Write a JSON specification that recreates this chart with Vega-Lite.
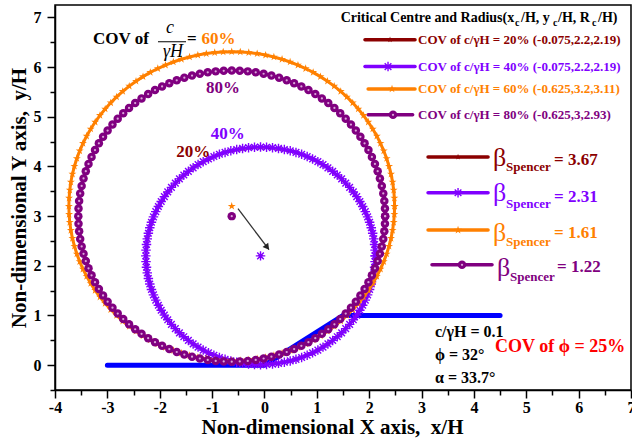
{
"$schema":"https://vega.github.io/schema/vega-lite/v6.json",
"width":576,"height":385,"autosize":"none",
"padding":{"left":55,"top":5,"right":1,"bottom":52},
"config":{"view":{"stroke":"#000","strokeWidth":1.5},
"axis":{"grid":false,"domainColor":"#000","domainWidth":1.5,"tickColor":"#000","tickWidth":1.5,"labelFont":"Liberation Serif","labelFontSize":16,"labelFontWeight":"bold","labelColor":"#000","titleFont":"Liberation Serif","titleFontSize":21,"titleFontWeight":"bold","titleColor":"#000"}},
"datasets":{"pts":[
{"s":"20%","i":0,"x":2.115,"y":2.2},{"s":"20%","i":1,"x":2.088,"y":2.543},{"s":"20%","i":2,"x":2.008,"y":2.877},{"s":"20%","i":3,"x":1.876,"y":3.194},{"s":"20%","i":4,"x":1.697,"y":3.487},{"s":"20%","i":5,"x":1.474,"y":3.749},{"s":"20%","i":6,"x":1.212,"y":3.972},{"s":"20%","i":7,"x":0.919,"y":4.151},{"s":"20%","i":8,"x":0.602,"y":4.283},{"s":"20%","i":9,"x":0.268,"y":4.363},
{"s":"20%","i":10,"x":-0.075,"y":4.39},{"s":"20%","i":11,"x":-0.418,"y":4.363},{"s":"20%","i":12,"x":-0.752,"y":4.283},{"s":"20%","i":13,"x":-1.069,"y":4.151},{"s":"20%","i":14,"x":-1.362,"y":3.972},{"s":"20%","i":15,"x":-1.624,"y":3.749},{"s":"20%","i":16,"x":-1.847,"y":3.487},{"s":"20%","i":17,"x":-2.026,"y":3.194},{"s":"20%","i":18,"x":-2.158,"y":2.877},{"s":"20%","i":19,"x":-2.238,"y":2.543},
{"s":"20%","i":20,"x":-2.265,"y":2.2},{"s":"20%","i":21,"x":-2.238,"y":1.857},{"s":"20%","i":22,"x":-2.158,"y":1.523},{"s":"20%","i":23,"x":-2.026,"y":1.206},{"s":"20%","i":24,"x":-1.847,"y":0.913},{"s":"20%","i":25,"x":-1.624,"y":0.651},{"s":"20%","i":26,"x":-1.362,"y":0.428},{"s":"20%","i":27,"x":-1.069,"y":0.249},{"s":"20%","i":28,"x":-0.752,"y":0.117},{"s":"20%","i":29,"x":-0.418,"y":0.037},
{"s":"20%","i":30,"x":-0.075,"y":0.01},{"s":"20%","i":31,"x":0.268,"y":0.037},{"s":"20%","i":32,"x":0.602,"y":0.117},{"s":"20%","i":33,"x":0.919,"y":0.249},{"s":"20%","i":34,"x":1.212,"y":0.428},{"s":"20%","i":35,"x":1.474,"y":0.651},{"s":"20%","i":36,"x":1.697,"y":0.913},{"s":"20%","i":37,"x":1.876,"y":1.206},{"s":"20%","i":38,"x":2.008,"y":1.523},{"s":"20%","i":39,"x":2.088,"y":1.857},{"s":"20%","i":40,"x":2.115,"y":2.2},
{"s":"40%","i":0,"x":2.115,"y":2.2},{"s":"40%","i":1,"x":2.112,"y":2.315},{"s":"40%","i":2,"x":2.103,"y":2.429},{"s":"40%","i":3,"x":2.088,"y":2.543},{"s":"40%","i":4,"x":2.067,"y":2.655},{"s":"40%","i":5,"x":2.04,"y":2.767},{"s":"40%","i":6,"x":2.008,"y":2.877},{"s":"40%","i":7,"x":1.97,"y":2.985},{"s":"40%","i":8,"x":1.926,"y":3.091},{"s":"40%","i":9,"x":1.876,"y":3.194},
{"s":"40%","i":10,"x":1.822,"y":3.295},{"s":"40%","i":11,"x":1.762,"y":3.393},{"s":"40%","i":12,"x":1.697,"y":3.487},{"s":"40%","i":13,"x":1.627,"y":3.578},{"s":"40%","i":14,"x":1.552,"y":3.665},{"s":"40%","i":15,"x":1.474,"y":3.749},{"s":"40%","i":16,"x":1.39,"y":3.827},{"s":"40%","i":17,"x":1.303,"y":3.902},{"s":"40%","i":18,"x":1.212,"y":3.972},{"s":"40%","i":19,"x":1.118,"y":4.037},
{"s":"40%","i":20,"x":1.02,"y":4.097},{"s":"40%","i":21,"x":0.919,"y":4.151},{"s":"40%","i":22,"x":0.816,"y":4.201},{"s":"40%","i":23,"x":0.71,"y":4.245},{"s":"40%","i":24,"x":0.602,"y":4.283},{"s":"40%","i":25,"x":0.492,"y":4.315},{"s":"40%","i":26,"x":0.38,"y":4.342},{"s":"40%","i":27,"x":0.268,"y":4.363},{"s":"40%","i":28,"x":0.154,"y":4.378},{"s":"40%","i":29,"x":0.04,"y":4.387},
{"s":"40%","i":30,"x":-0.075,"y":4.39},{"s":"40%","i":31,"x":-0.19,"y":4.387},{"s":"40%","i":32,"x":-0.304,"y":4.378},{"s":"40%","i":33,"x":-0.418,"y":4.363},{"s":"40%","i":34,"x":-0.53,"y":4.342},{"s":"40%","i":35,"x":-0.642,"y":4.315},{"s":"40%","i":36,"x":-0.752,"y":4.283},{"s":"40%","i":37,"x":-0.86,"y":4.245},{"s":"40%","i":38,"x":-0.966,"y":4.201},{"s":"40%","i":39,"x":-1.069,"y":4.151},
{"s":"40%","i":40,"x":-1.17,"y":4.097},{"s":"40%","i":41,"x":-1.268,"y":4.037},{"s":"40%","i":42,"x":-1.362,"y":3.972},{"s":"40%","i":43,"x":-1.453,"y":3.902},{"s":"40%","i":44,"x":-1.54,"y":3.827},{"s":"40%","i":45,"x":-1.624,"y":3.749},{"s":"40%","i":46,"x":-1.702,"y":3.665},{"s":"40%","i":47,"x":-1.777,"y":3.578},{"s":"40%","i":48,"x":-1.847,"y":3.487},{"s":"40%","i":49,"x":-1.912,"y":3.393},
{"s":"40%","i":50,"x":-1.972,"y":3.295},{"s":"40%","i":51,"x":-2.026,"y":3.194},{"s":"40%","i":52,"x":-2.076,"y":3.091},{"s":"40%","i":53,"x":-2.12,"y":2.985},{"s":"40%","i":54,"x":-2.158,"y":2.877},{"s":"40%","i":55,"x":-2.19,"y":2.767},{"s":"40%","i":56,"x":-2.217,"y":2.655},{"s":"40%","i":57,"x":-2.238,"y":2.543},{"s":"40%","i":58,"x":-2.253,"y":2.429},{"s":"40%","i":59,"x":-2.262,"y":2.315},
{"s":"40%","i":60,"x":-2.265,"y":2.2},{"s":"40%","i":61,"x":-2.262,"y":2.085},{"s":"40%","i":62,"x":-2.253,"y":1.971},{"s":"40%","i":63,"x":-2.238,"y":1.857},{"s":"40%","i":64,"x":-2.217,"y":1.745},{"s":"40%","i":65,"x":-2.19,"y":1.633},{"s":"40%","i":66,"x":-2.158,"y":1.523},{"s":"40%","i":67,"x":-2.12,"y":1.415},{"s":"40%","i":68,"x":-2.076,"y":1.309},{"s":"40%","i":69,"x":-2.026,"y":1.206},
{"s":"40%","i":70,"x":-1.972,"y":1.105},{"s":"40%","i":71,"x":-1.912,"y":1.007},{"s":"40%","i":72,"x":-1.847,"y":0.913},{"s":"40%","i":73,"x":-1.777,"y":0.822},{"s":"40%","i":74,"x":-1.702,"y":0.735},{"s":"40%","i":75,"x":-1.624,"y":0.651},{"s":"40%","i":76,"x":-1.54,"y":0.573},{"s":"40%","i":77,"x":-1.453,"y":0.498},{"s":"40%","i":78,"x":-1.362,"y":0.428},{"s":"40%","i":79,"x":-1.268,"y":0.363},
{"s":"40%","i":80,"x":-1.17,"y":0.303},{"s":"40%","i":81,"x":-1.069,"y":0.249},{"s":"40%","i":82,"x":-0.966,"y":0.199},{"s":"40%","i":83,"x":-0.86,"y":0.155},{"s":"40%","i":84,"x":-0.752,"y":0.117},{"s":"40%","i":85,"x":-0.642,"y":0.085},{"s":"40%","i":86,"x":-0.53,"y":0.058},{"s":"40%","i":87,"x":-0.418,"y":0.037},{"s":"40%","i":88,"x":-0.304,"y":0.022},{"s":"40%","i":89,"x":-0.19,"y":0.013},
{"s":"40%","i":90,"x":-0.075,"y":0.01},{"s":"40%","i":91,"x":0.04,"y":0.013},{"s":"40%","i":92,"x":0.154,"y":0.022},{"s":"40%","i":93,"x":0.268,"y":0.037},{"s":"40%","i":94,"x":0.38,"y":0.058},{"s":"40%","i":95,"x":0.492,"y":0.085},{"s":"40%","i":96,"x":0.602,"y":0.117},{"s":"40%","i":97,"x":0.71,"y":0.155},{"s":"40%","i":98,"x":0.816,"y":0.199},{"s":"40%","i":99,"x":0.919,"y":0.249},
{"s":"40%","i":100,"x":1.02,"y":0.303},{"s":"40%","i":101,"x":1.118,"y":0.363},{"s":"40%","i":102,"x":1.212,"y":0.428},{"s":"40%","i":103,"x":1.303,"y":0.498},{"s":"40%","i":104,"x":1.39,"y":0.573},{"s":"40%","i":105,"x":1.474,"y":0.651},{"s":"40%","i":106,"x":1.552,"y":0.735},{"s":"40%","i":107,"x":1.627,"y":0.822},{"s":"40%","i":108,"x":1.697,"y":0.913},{"s":"40%","i":109,"x":1.762,"y":1.007},
{"s":"40%","i":110,"x":1.822,"y":1.105},{"s":"40%","i":111,"x":1.876,"y":1.206},{"s":"40%","i":112,"x":1.926,"y":1.309},{"s":"40%","i":113,"x":1.97,"y":1.415},{"s":"40%","i":114,"x":2.008,"y":1.523},{"s":"40%","i":115,"x":2.04,"y":1.633},{"s":"40%","i":116,"x":2.067,"y":1.745},{"s":"40%","i":117,"x":2.088,"y":1.857},{"s":"40%","i":118,"x":2.103,"y":1.971},{"s":"40%","i":119,"x":2.112,"y":2.085},{"s":"40%","i":120,"x":2.115,"y":2.2},
{"s":"60%","i":0,"x":2.485,"y":3.2},{"s":"60%","i":1,"x":2.481,"y":3.363},{"s":"60%","i":2,"x":2.468,"y":3.525},{"s":"60%","i":3,"x":2.447,"y":3.686},{"s":"60%","i":4,"x":2.417,"y":3.847},{"s":"60%","i":5,"x":2.379,"y":4.005},{"s":"60%","i":6,"x":2.333,"y":4.161},{"s":"60%","i":7,"x":2.278,"y":4.315},{"s":"60%","i":8,"x":2.216,"y":4.465},{"s":"60%","i":9,"x":2.146,"y":4.612},
{"s":"60%","i":10,"x":2.068,"y":4.755},{"s":"60%","i":11,"x":1.983,"y":4.894},{"s":"60%","i":12,"x":1.891,"y":5.028},{"s":"60%","i":13,"x":1.792,"y":5.157},{"s":"60%","i":14,"x":1.686,"y":5.281},{"s":"60%","i":15,"x":1.574,"y":5.399},{"s":"60%","i":16,"x":1.456,"y":5.511},{"s":"60%","i":17,"x":1.332,"y":5.617},{"s":"60%","i":18,"x":1.203,"y":5.716},{"s":"60%","i":19,"x":1.069,"y":5.808},
{"s":"60%","i":20,"x":0.93,"y":5.893},{"s":"60%","i":21,"x":0.787,"y":5.971},{"s":"60%","i":22,"x":0.64,"y":6.041},{"s":"60%","i":23,"x":0.49,"y":6.103},{"s":"60%","i":24,"x":0.336,"y":6.158},{"s":"60%","i":25,"x":0.18,"y":6.204},{"s":"60%","i":26,"x":0.022,"y":6.242},{"s":"60%","i":27,"x":-0.139,"y":6.272},{"s":"60%","i":28,"x":-0.3,"y":6.293},{"s":"60%","i":29,"x":-0.462,"y":6.306},
{"s":"60%","i":30,"x":-0.625,"y":6.31},{"s":"60%","i":31,"x":-0.788,"y":6.306},{"s":"60%","i":32,"x":-0.95,"y":6.293},{"s":"60%","i":33,"x":-1.111,"y":6.272},{"s":"60%","i":34,"x":-1.272,"y":6.242},{"s":"60%","i":35,"x":-1.43,"y":6.204},{"s":"60%","i":36,"x":-1.586,"y":6.158},{"s":"60%","i":37,"x":-1.74,"y":6.103},{"s":"60%","i":38,"x":-1.89,"y":6.041},{"s":"60%","i":39,"x":-2.037,"y":5.971},
{"s":"60%","i":40,"x":-2.18,"y":5.893},{"s":"60%","i":41,"x":-2.319,"y":5.808},{"s":"60%","i":42,"x":-2.453,"y":5.716},{"s":"60%","i":43,"x":-2.582,"y":5.617},{"s":"60%","i":44,"x":-2.706,"y":5.511},{"s":"60%","i":45,"x":-2.824,"y":5.399},{"s":"60%","i":46,"x":-2.936,"y":5.281},{"s":"60%","i":47,"x":-3.042,"y":5.157},{"s":"60%","i":48,"x":-3.141,"y":5.028},{"s":"60%","i":49,"x":-3.233,"y":4.894},
{"s":"60%","i":50,"x":-3.318,"y":4.755},{"s":"60%","i":51,"x":-3.396,"y":4.612},{"s":"60%","i":52,"x":-3.466,"y":4.465},{"s":"60%","i":53,"x":-3.528,"y":4.315},{"s":"60%","i":54,"x":-3.583,"y":4.161},{"s":"60%","i":55,"x":-3.629,"y":4.005},{"s":"60%","i":56,"x":-3.667,"y":3.847},{"s":"60%","i":57,"x":-3.697,"y":3.686},{"s":"60%","i":58,"x":-3.718,"y":3.525},{"s":"60%","i":59,"x":-3.731,"y":3.363},
{"s":"60%","i":60,"x":-3.735,"y":3.2},{"s":"60%","i":61,"x":-3.731,"y":3.037},{"s":"60%","i":62,"x":-3.718,"y":2.875},{"s":"60%","i":63,"x":-3.697,"y":2.714},{"s":"60%","i":64,"x":-3.667,"y":2.553},{"s":"60%","i":65,"x":-3.629,"y":2.395},{"s":"60%","i":66,"x":-3.583,"y":2.239},{"s":"60%","i":67,"x":-3.528,"y":2.085},{"s":"60%","i":68,"x":-3.466,"y":1.935},{"s":"60%","i":69,"x":-3.396,"y":1.788},
{"s":"60%","i":70,"x":-3.318,"y":1.645},{"s":"60%","i":71,"x":-3.233,"y":1.506},{"s":"60%","i":72,"x":-3.141,"y":1.372},{"s":"60%","i":73,"x":-3.042,"y":1.243},{"s":"60%","i":74,"x":-2.936,"y":1.119},{"s":"60%","i":75,"x":-2.824,"y":1.001},{"s":"60%","i":76,"x":-2.706,"y":0.889},{"s":"60%","i":77,"x":-2.582,"y":0.783},{"s":"60%","i":78,"x":-2.453,"y":0.684},{"s":"60%","i":79,"x":-2.319,"y":0.592},
{"s":"60%","i":80,"x":-2.18,"y":0.507},{"s":"60%","i":81,"x":-2.037,"y":0.429},{"s":"60%","i":82,"x":-1.89,"y":0.359},{"s":"60%","i":83,"x":-1.74,"y":0.297},{"s":"60%","i":84,"x":-1.586,"y":0.242},{"s":"60%","i":85,"x":-1.43,"y":0.196},{"s":"60%","i":86,"x":-1.272,"y":0.158},{"s":"60%","i":87,"x":-1.111,"y":0.128},{"s":"60%","i":88,"x":-0.95,"y":0.107},{"s":"60%","i":89,"x":-0.788,"y":0.094},
{"s":"60%","i":90,"x":-0.625,"y":0.09},{"s":"60%","i":91,"x":-0.462,"y":0.094},{"s":"60%","i":92,"x":-0.3,"y":0.107},{"s":"60%","i":93,"x":-0.139,"y":0.128},{"s":"60%","i":94,"x":0.022,"y":0.158},{"s":"60%","i":95,"x":0.18,"y":0.196},{"s":"60%","i":96,"x":0.336,"y":0.242},{"s":"60%","i":97,"x":0.49,"y":0.297},{"s":"60%","i":98,"x":0.64,"y":0.359},{"s":"60%","i":99,"x":0.787,"y":0.429},
{"s":"60%","i":100,"x":0.93,"y":0.507},{"s":"60%","i":101,"x":1.069,"y":0.592},{"s":"60%","i":102,"x":1.203,"y":0.684},{"s":"60%","i":103,"x":1.332,"y":0.783},{"s":"60%","i":104,"x":1.456,"y":0.889},{"s":"60%","i":105,"x":1.574,"y":1.001},{"s":"60%","i":106,"x":1.686,"y":1.119},{"s":"60%","i":107,"x":1.792,"y":1.243},{"s":"60%","i":108,"x":1.891,"y":1.372},{"s":"60%","i":109,"x":1.983,"y":1.506},
{"s":"60%","i":110,"x":2.068,"y":1.645},{"s":"60%","i":111,"x":2.146,"y":1.788},{"s":"60%","i":112,"x":2.216,"y":1.935},{"s":"60%","i":113,"x":2.278,"y":2.085},{"s":"60%","i":114,"x":2.333,"y":2.239},{"s":"60%","i":115,"x":2.379,"y":2.395},{"s":"60%","i":116,"x":2.417,"y":2.553},{"s":"60%","i":117,"x":2.447,"y":2.714},{"s":"60%","i":118,"x":2.468,"y":2.875},{"s":"60%","i":119,"x":2.481,"y":3.037},{"s":"60%","i":120,"x":2.485,"y":3.2},
{"s":"80%","i":0,"x":2.305,"y":3},{"s":"80%","i":1,"x":2.301,"y":3.153},{"s":"80%","i":2,"x":2.289,"y":3.306},{"s":"80%","i":3,"x":2.269,"y":3.458},{"s":"80%","i":4,"x":2.241,"y":3.609},{"s":"80%","i":5,"x":2.205,"y":3.758},{"s":"80%","i":6,"x":2.162,"y":3.905},{"s":"80%","i":7,"x":2.11,"y":4.05},{"s":"80%","i":8,"x":2.052,"y":4.192},{"s":"80%","i":9,"x":1.986,"y":4.33},
{"s":"80%","i":10,"x":1.912,"y":4.465},{"s":"80%","i":11,"x":1.832,"y":4.596},{"s":"80%","i":12,"x":1.745,"y":4.722},{"s":"80%","i":13,"x":1.652,"y":4.844},{"s":"80%","i":14,"x":1.552,"y":4.961},{"s":"80%","i":15,"x":1.447,"y":5.072},{"s":"80%","i":16,"x":1.336,"y":5.177},{"s":"80%","i":17,"x":1.219,"y":5.277},{"s":"80%","i":18,"x":1.097,"y":5.37},{"s":"80%","i":19,"x":0.971,"y":5.457},
{"s":"80%","i":20,"x":0.84,"y":5.537},{"s":"80%","i":21,"x":0.705,"y":5.611},{"s":"80%","i":22,"x":0.567,"y":5.677},{"s":"80%","i":23,"x":0.425,"y":5.735},{"s":"80%","i":24,"x":0.28,"y":5.787},{"s":"80%","i":25,"x":0.133,"y":5.83},{"s":"80%","i":26,"x":-0.016,"y":5.866},{"s":"80%","i":27,"x":-0.167,"y":5.894},{"s":"80%","i":28,"x":-0.319,"y":5.914},{"s":"80%","i":29,"x":-0.472,"y":5.926},
{"s":"80%","i":30,"x":-0.625,"y":5.93},{"s":"80%","i":31,"x":-0.778,"y":5.926},{"s":"80%","i":32,"x":-0.931,"y":5.914},{"s":"80%","i":33,"x":-1.083,"y":5.894},{"s":"80%","i":34,"x":-1.234,"y":5.866},{"s":"80%","i":35,"x":-1.383,"y":5.83},{"s":"80%","i":36,"x":-1.53,"y":5.787},{"s":"80%","i":37,"x":-1.675,"y":5.735},{"s":"80%","i":38,"x":-1.817,"y":5.677},{"s":"80%","i":39,"x":-1.955,"y":5.611},
{"s":"80%","i":40,"x":-2.09,"y":5.537},{"s":"80%","i":41,"x":-2.221,"y":5.457},{"s":"80%","i":42,"x":-2.347,"y":5.37},{"s":"80%","i":43,"x":-2.469,"y":5.277},{"s":"80%","i":44,"x":-2.586,"y":5.177},{"s":"80%","i":45,"x":-2.697,"y":5.072},{"s":"80%","i":46,"x":-2.802,"y":4.961},{"s":"80%","i":47,"x":-2.902,"y":4.844},{"s":"80%","i":48,"x":-2.995,"y":4.722},{"s":"80%","i":49,"x":-3.082,"y":4.596},
{"s":"80%","i":50,"x":-3.162,"y":4.465},{"s":"80%","i":51,"x":-3.236,"y":4.33},{"s":"80%","i":52,"x":-3.302,"y":4.192},{"s":"80%","i":53,"x":-3.36,"y":4.05},{"s":"80%","i":54,"x":-3.412,"y":3.905},{"s":"80%","i":55,"x":-3.455,"y":3.758},{"s":"80%","i":56,"x":-3.491,"y":3.609},{"s":"80%","i":57,"x":-3.519,"y":3.458},{"s":"80%","i":58,"x":-3.539,"y":3.306},{"s":"80%","i":59,"x":-3.551,"y":3.153},
{"s":"80%","i":60,"x":-3.555,"y":3},{"s":"80%","i":61,"x":-3.551,"y":2.847},{"s":"80%","i":62,"x":-3.539,"y":2.694},{"s":"80%","i":63,"x":-3.519,"y":2.542},{"s":"80%","i":64,"x":-3.491,"y":2.391},{"s":"80%","i":65,"x":-3.455,"y":2.242},{"s":"80%","i":66,"x":-3.412,"y":2.095},{"s":"80%","i":67,"x":-3.36,"y":1.95},{"s":"80%","i":68,"x":-3.302,"y":1.808},{"s":"80%","i":69,"x":-3.236,"y":1.67},
{"s":"80%","i":70,"x":-3.162,"y":1.535},{"s":"80%","i":71,"x":-3.082,"y":1.404},{"s":"80%","i":72,"x":-2.995,"y":1.278},{"s":"80%","i":73,"x":-2.902,"y":1.156},{"s":"80%","i":74,"x":-2.802,"y":1.039},{"s":"80%","i":75,"x":-2.697,"y":0.928},{"s":"80%","i":76,"x":-2.586,"y":0.823},{"s":"80%","i":77,"x":-2.469,"y":0.723},{"s":"80%","i":78,"x":-2.347,"y":0.63},{"s":"80%","i":79,"x":-2.221,"y":0.543},
{"s":"80%","i":80,"x":-2.09,"y":0.463},{"s":"80%","i":81,"x":-1.955,"y":0.389},{"s":"80%","i":82,"x":-1.817,"y":0.323},{"s":"80%","i":83,"x":-1.675,"y":0.265},{"s":"80%","i":84,"x":-1.53,"y":0.213},{"s":"80%","i":85,"x":-1.383,"y":0.17},{"s":"80%","i":86,"x":-1.234,"y":0.134},{"s":"80%","i":87,"x":-1.083,"y":0.106},{"s":"80%","i":88,"x":-0.931,"y":0.086},{"s":"80%","i":89,"x":-0.778,"y":0.074},
{"s":"80%","i":90,"x":-0.625,"y":0.07},{"s":"80%","i":91,"x":-0.472,"y":0.074},{"s":"80%","i":92,"x":-0.319,"y":0.086},{"s":"80%","i":93,"x":-0.167,"y":0.106},{"s":"80%","i":94,"x":-0.016,"y":0.134},{"s":"80%","i":95,"x":0.133,"y":0.17},{"s":"80%","i":96,"x":0.28,"y":0.213},{"s":"80%","i":97,"x":0.425,"y":0.265},{"s":"80%","i":98,"x":0.567,"y":0.323},{"s":"80%","i":99,"x":0.705,"y":0.389},
{"s":"80%","i":100,"x":0.84,"y":0.463},{"s":"80%","i":101,"x":0.971,"y":0.543},{"s":"80%","i":102,"x":1.097,"y":0.63},{"s":"80%","i":103,"x":1.219,"y":0.723},{"s":"80%","i":104,"x":1.336,"y":0.823},{"s":"80%","i":105,"x":1.447,"y":0.928},{"s":"80%","i":106,"x":1.552,"y":1.039},{"s":"80%","i":107,"x":1.652,"y":1.156},{"s":"80%","i":108,"x":1.745,"y":1.278},{"s":"80%","i":109,"x":1.832,"y":1.404},
{"s":"80%","i":110,"x":1.912,"y":1.535},{"s":"80%","i":111,"x":1.986,"y":1.67},{"s":"80%","i":112,"x":2.052,"y":1.808},{"s":"80%","i":113,"x":2.11,"y":1.95},{"s":"80%","i":114,"x":2.162,"y":2.095},{"s":"80%","i":115,"x":2.205,"y":2.242},{"s":"80%","i":116,"x":2.241,"y":2.391},{"s":"80%","i":117,"x":2.269,"y":2.542},{"s":"80%","i":118,"x":2.289,"y":2.694},{"s":"80%","i":119,"x":2.301,"y":2.847},{"s":"80%","i":120,"x":2.305,"y":3},
{"s":"20%","x":-0.075,"y":2.2},{"s":"40%","x":-0.075,"y":2.2},{"s":"60%","x":-0.625,"y":3.2},{"s":"80%","x":-0.625,"y":3.0},
{"s":"20%","x":2.398,"y":6.55},{"s":"40%","x":2.36,"y":6.01},{"s":"60%","x":2.436,"y":5.56},{"s":"80%","x":2.455,"y":5.04},
{"s":"20%","x":3.697,"y":4.19},{"s":"40%","x":3.697,"y":3.47},{"s":"60%","x":3.697,"y":2.72},{"s":"80%","x":3.773,"y":2.02}
]},
"encoding":{
"x":{"field":"x","type":"quantitative","scale":{"domain":[-4,7],"nice":false,"zero":false},
"axis":{"title":"Non-dimensional X axis,\u00a0 x/H","values":[-4,-3.5,-3,-2.5,-2,-1.5,-1,-0.5,0,0.5,1,1.5,2,2.5,3,3.5,4,4.5,5,5.5,6,6.5,7],"labelExpr":"datum.value % 1 === 0 ? '' + datum.value : ''","tickSize":{"condition":{"test":"datum.value % 1 === 0","value":8},"value":5},"labelOverlap":false,"labelFlush":false,"labelPadding":1,"titlePadding":1,"titleX":277}},
"y":{"field":"y","type":"quantitative","scale":{"domain":[-0.5,7.25],"nice":false,"zero":false},
"axis":{"title":"Non-dimensional Y axis,\u00a0 y/H","values":[-0.5,0,0.5,1,1.5,2,2.5,3,3.5,4,4.5,5,5.5,6,6.5,7],"labelExpr":"datum.value % 1 === 0 ? '' + datum.value : ''","tickSize":{"condition":{"test":"datum.value % 1 === 0","value":8},"value":5},"labelOverlap":false,"labelFlush":false,"labelPadding":6,"titlePadding":4}}
},
"layer":[
{"data":{"values":[{"x":-3,"y":0,"o":0},{"x":0,"y":0,"o":1},{"x":1.5,"y":1,"o":2},{"x":4.5,"y":1,"o":3}]},
"mark":{"type":"line","color":"#0000FF","strokeWidth":5,"strokeCap":"round"},
"encoding":{"order":{"field":"o","type":"quantitative"}}},
{"data":{"values":[{"s":"20%","x":1.92,"x2":2.875,"y":6.55},{"s":"40%","x":1.92,"x2":2.875,"y":6.01},{"s":"60%","x":1.98,"x2":2.875,"y":5.56},{"s":"80%","x":1.98,"x2":2.83,"y":5.04},
{"s":"20%","x":3.124,"x2":4.27,"y":4.19},{"s":"40%","x":3.124,"x2":4.27,"y":3.47},{"s":"60%","x":3.124,"x2":4.27,"y":2.72},{"s":"80%","x":3.2,"x2":4.346,"y":2.02}]},
"mark":{"type":"rule","strokeWidth":3.5,"strokeCap":"round"},
"encoding":{"x2":{"field":"x2"},"color":{"field":"s","type":"nominal","scale":{"domain":["20%","40%","60%","80%"],"range":["#8B0000","#8000FF","#FF8000","#800080"]},"legend":null}}},
{"data":{"name":"pts"},"transform":[{"filter":"datum.s === '20%' && isValid(datum.i)"}],
"mark":{"type":"line","color":"#8B0000","strokeWidth":2.5},"encoding":{"order":{"field":"i","type":"quantitative"}}},
{"data":{"name":"pts"},"transform":[{"filter":"datum.s === '20%'"}],
"mark":{"type":"point","shape":"M0,-1L0.2245,-0.309L0.951,-0.309L0.363,0.118L0.588,0.809L0,0.382L-0.588,0.809L-0.363,0.118L-0.951,-0.309L-0.2245,-0.309Z","filled":true,"color":"#8B0000","size":40,"opacity":1}},
{"data":{"name":"pts"},"transform":[{"filter":"datum.s === '40%' && isValid(datum.i)"}],
"mark":{"type":"line","color":"#8000FF","strokeWidth":2.5},"encoding":{"order":{"field":"i","type":"quantitative"}}},
{"data":{"name":"pts"},"transform":[{"filter":"datum.s === '40%'"}],
"mark":{"type":"point","shape":"M-1,0L1,0M0,-1L0,1M-0.7,-0.7L0.7,0.7M-0.7,0.7L0.7,-0.7","filled":false,"color":"#8000FF","strokeWidth":1.4,"size":90,"opacity":1}},
{"data":{"name":"pts"},"transform":[{"filter":"datum.s === '60%' && isValid(datum.i)"}],
"mark":{"type":"line","color":"#FF8000","strokeWidth":3},"encoding":{"order":{"field":"i","type":"quantitative"}}},
{"data":{"name":"pts"},"transform":[{"filter":"datum.s === '60%'"}],
"mark":{"type":"point","shape":"M0,-1L0.2245,-0.309L0.951,-0.309L0.363,0.118L0.588,0.809L0,0.382L-0.588,0.809L-0.363,0.118L-0.951,-0.309L-0.2245,-0.309Z","filled":true,"color":"#FF8000","size":70,"opacity":1}},
{"data":{"name":"pts"},"transform":[{"filter":"datum.s === '80%' && isValid(datum.i)"}],
"mark":{"type":"line","color":"#800080","strokeWidth":3},"encoding":{"order":{"field":"i","type":"quantitative"}}},
{"data":{"name":"pts"},"transform":[{"filter":"datum.s === '80%'"}],
"mark":{"type":"point","shape":"circle","filled":true,"color":"#800080","size":72,"opacity":1}},
{"data":{"name":"pts"},"transform":[{"filter":"datum.s === '80%'"}],
"mark":{"type":"point","shape":"circle","filled":true,"color":"#D9A6D9","size":5,"opacity":1}},
{"data":{"values":[{"x":-0.505,"y":3.149,"x2":0.087,"y2":2.324}]},
"mark":{"type":"rule","color":"#333333","strokeWidth":1.3},"encoding":{"x2":{"field":"x2"},"y2":{"field":"y2"}}},
{"data":{"values":[{"x":0.053,"y":2.372}]},
"mark":{"type":"point","shape":"triangle-up","angle":143,"filled":true,"color":"#222222","size":50,"opacity":1}},
{"data":{"values":[{"x":-3.274,"y":6.57,"t":"COV of"},{"x":-1.479,"y":6.57,"t":"="}]},
"mark":{"type":"text","font":"Liberation Serif","fontWeight":"bold","fontSize":17,"align":"left","baseline":"middle","color":"#000"},
"encoding":{"text":{"field":"t"}}},
{"data":{"values":[{"x":-1.804,"y":6.79,"t":"c"},{"x":-1.746,"y":6.31,"t":"γH"}]},
"mark":{"type":"text","font":"Liberation Serif","fontStyle":"italic","fontSize":18,"align":"center","baseline":"middle","color":"#000"},
"encoding":{"text":{"field":"t"}}},
{"data":{"values":[{"x":-2.033,"x2":-1.498,"y":6.51}]},
"mark":{"type":"rule","color":"#000","strokeWidth":1},"encoding":{"x2":{"field":"x2"}}},
{"data":{"values":[{"s":"60%","x":-0.877,"y":6.57,"t":"60%"},{"s":"80%","x":-0.79,"y":5.583,"t":"80%"},{"s":"40%","x":-0.70,"y":4.658,"t":"40%"},{"s":"20%","x":-1.36,"y":4.296,"t":"20%"}]},
"mark":{"type":"text","font":"Liberation Serif","fontWeight":"bold","fontSize":17,"align":"center","baseline":"middle"},
"encoding":{"text":{"field":"t"},"color":{"field":"s","type":"nominal","scale":{"domain":["20%","40%","60%","80%"],"range":["#8B0000","#8000FF","#FF8000","#800080"]},"legend":null}}},
{"data":{"values":[{"x":4.77,"y":6.99,"t":"Critical Centre and Radius(x"}]},
"mark":{"type":"text","font":"Liberation Serif","fontWeight":"bold","fontSize":14,"align":"right","baseline":"middle","color":"#000"},
"encoding":{"text":{"field":"t"}}},
{"data":{"values":[{"x":4.9,"y":6.99,"t":"/H, y"},{"x":5.607,"y":6.99,"t":"/H, R"},{"x":6.371,"y":6.99,"t":"/H)"}]},
"mark":{"type":"text","font":"Liberation Serif","fontWeight":"bold","fontSize":14,"align":"left","baseline":"middle","color":"#000"},
"encoding":{"text":{"field":"t"}}},
{"data":{"values":[{"x":4.785,"y":6.89,"t":"c"},{"x":5.511,"y":6.89,"t":"c"},{"x":6.256,"y":6.89,"t":"c"}]},
"mark":{"type":"text","font":"Liberation Serif","fontWeight":"bold","fontSize":10,"align":"left","baseline":"middle","color":"#000"},
"encoding":{"text":{"field":"t"}}},
{"data":{"values":[{"s":"20%","x":2.933,"y":6.55,"t":"COV of c/γH = 20% (-0.075,2.2,2.19)"},{"s":"40%","x":2.933,"y":6.01,"t":"COV of c/γH = 40% (-0.075,2.2,2.19)"},{"s":"60%","x":2.933,"y":5.56,"t":"COV of c/γH = 60% (-0.625,3.2,3.11)"},{"s":"80%","x":2.933,"y":5.04,"t":"COV of c/γH = 80% (-0.625,3,2.93)"}]},
"mark":{"type":"text","font":"Liberation Serif","fontWeight":"bold","fontSize":13,"align":"left","baseline":"middle"},
"encoding":{"text":{"field":"t"},"color":{"field":"s","type":"nominal","scale":{"domain":["20%","40%","60%","80%"],"range":["#8B0000","#8000FF","#FF8000","#800080"]},"legend":null}}},
{"data":{"values":[{"s":"20%","x":4.365,"y":4.175,"t":"β"},{"s":"40%","x":4.365,"y":3.47,"t":"β"},{"s":"60%","x":4.365,"y":2.67,"t":"β"},{"s":"80%","x":4.442,"y":1.96,"t":"β"}]},
"mark":{"type":"text","font":"Liberation Serif","fontSize":26,"align":"left","baseline":"middle"},
"encoding":{"text":{"field":"t"},"color":{"field":"s","type":"nominal","scale":{"domain":["20%","40%","60%","80%"],"range":["#8B0000","#8000FF","#FF8000","#800080"]},"legend":null}}},
{"data":{"values":[{"s":"20%","x":4.613,"y":3.994,"t":"Spencer"},{"s":"40%","x":4.613,"y":3.25,"t":"Spencer"},{"s":"60%","x":4.613,"y":2.485,"t":"Spencer"},{"s":"80%","x":4.69,"y":1.78,"t":"Spencer"}]},
"mark":{"type":"text","font":"Liberation Serif","fontWeight":"bold","fontSize":13,"align":"left","baseline":"middle"},
"encoding":{"text":{"field":"t"},"color":{"field":"s","type":"nominal","scale":{"domain":["20%","40%","60%","80%"],"range":["#8B0000","#8000FF","#FF8000","#800080"]},"legend":null}}},
{"data":{"values":[{"s":"20%","x":5.53,"y":4.135,"t":"= 3.67"},{"s":"40%","x":5.53,"y":3.39,"t":"= 2.31"},{"s":"60%","x":5.53,"y":2.67,"t":"= 1.61"},{"s":"80%","x":5.587,"y":1.98,"t":"= 1.22"}]},
"mark":{"type":"text","font":"Liberation Serif","fontWeight":"bold","fontSize":17,"align":"left","baseline":"middle"},
"encoding":{"text":{"field":"t"},"color":{"field":"s","type":"nominal","scale":{"domain":["20%","40%","60%","80%"],"range":["#8B0000","#8000FF","#FF8000","#800080"]},"legend":null}}},
{"data":{"values":[{"x":3.257,"y":0.674,"t":"c/γH = 0.1"},{"x":3.257,"y":0.211,"t":"ϕ = 32°"},{"x":3.257,"y":-0.252,"t":"α = 33.7°"}]},
"mark":{"type":"text","font":"Liberation Serif","fontWeight":"bold","fontSize":16,"align":"left","baseline":"middle","color":"#000"},
"encoding":{"text":{"field":"t"}}},
{"data":{"values":[{"x":4.403,"y":0.372,"t":"COV of ϕ = 25%"}]},
"mark":{"type":"text","font":"Liberation Serif","fontWeight":"bold","fontSize":18,"align":"left","baseline":"middle","color":"#FF0000"},
"encoding":{"text":{"field":"t"}}}
]
}
